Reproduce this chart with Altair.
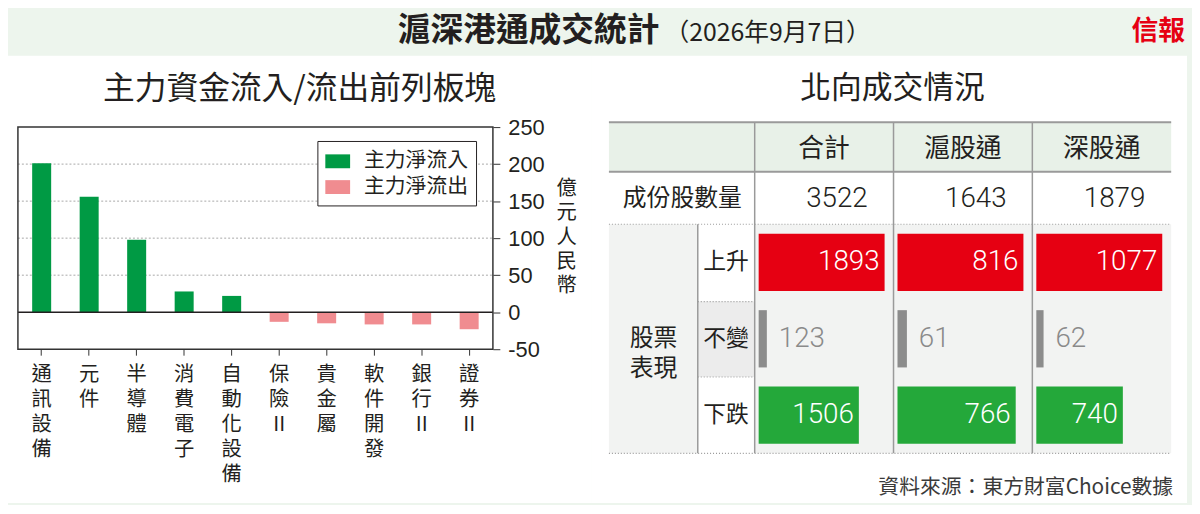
import altair as alt
import pandas as pd

# ---------------- data ----------------
sectors = ["通訊設備", "元件", "半導體", "消費電子", "自動化設備",
           "保險II", "貴金屬", "軟件開發", "銀行II", "證券II"]
net_flow = [201, 156, 98, 28, 22, -13, -15, -16.5, -16.5, -23]
flow_types = ["主力淨流入", "主力淨流出"]
y_ticks = [-50, 0, 50, 100, 150, 200, 250]
grid_values = [50, 100, 150, 200]

table_cols = ["合計", "滬股通", "深股通"]
constituents = [3522, 1643, 1879]
perf_rows = ["上升", "不變", "下跌"]
rise = [1893, 816, 1077]
flat = [123, 61, 62]
fall = [1506, 766, 740]

# ---------------- styles ----------------
CJK = "Noto Sans CJK TC"
NUM = "Roboto"
AXNUM = "Liberation Sans Narrow, Liberation Sans, sans-serif"
INK = "#231f20"
GREEN_BG = "#edf5ed"
one = pd.DataFrame({"k": [0]})


def vrect(x1, x2, y1, y2, **kw):
    return alt.Chart(one).mark_rect(**kw).encode(
        x=alt.value(x1), x2=alt.value(x2), y=alt.value(y1), y2=alt.value(y2))


def hrule(x1, x2, y, **kw):
    return alt.Chart(one).mark_rule(**kw).encode(
        x=alt.value(x1), x2=alt.value(x2), y=alt.value(y))


def vrule(x, y1, y2, **kw):
    return alt.Chart(one).mark_rule(**kw).encode(
        x=alt.value(x), y=alt.value(y1), y2=alt.value(y2))


def label(text, x, y, **kw):
    return alt.Chart(one).mark_text(text=text, **kw).encode(
        x=alt.value(x), y=alt.value(y))


# ---------------- header ----------------
header = alt.layer(
    vrect(0, 1184, 0, 46, color=GREEN_BG),
    label("滬深港通成交統計", 647, 21, font=CJK, fontSize=33,
          fontWeight="bold", align="right", baseline="middle", color=INK),
    label("（2026年9月7日）", 652, 23, font=CJK, fontSize=25, align="left",
          baseline="middle", color=INK),
    label("信報", 1177, 22, font=CJK, fontSize=27, fontWeight="bold",
          align="right", baseline="middle", color="#e60012"),
).properties(width=1184, height=46)

# ---------------- left: bar chart ----------------
W_L, H_L = 479, 224


def stack(name):
    parts, i = [], 0
    while i < len(name):
        if name[i:i + 2] == "II":
            parts.append("II")
            i += 2
        else:
            parts.append(name[i])
            i += 1
    return "|".join(parts)


keys = [stack(s) for s in sectors]
df_bars = pd.DataFrame({
    "key": keys,
    "value": net_flow,
    "type": [flow_types[0] if v >= 0 else flow_types[1] for v in net_flow],
})
df_grid = pd.DataFrame({"value": grid_values})

y_scale = alt.Scale(domain=[-50, 250], nice=False, zero=False)
x_enc = alt.X(
    "key:N", sort=keys,
    scale=alt.Scale(paddingInner=0.6, paddingOuter=0.3),
    axis=alt.Axis(orient="bottom", labelExpr="split(datum.label, '|')",
                  labelAngle=0, labelBaseline="top", labelAlign="center",
                  labelFont=CJK, labelFontSize=20.5, labelLineHeight=25,
                  labelPadding=10, labelColor=INK, tickSize=6,
                  tickColor="#333333", domain=False, grid=False, title=None,
                  labelOverlap=False, zindex=2))
y_axis = alt.Axis(orient="right", values=y_ticks, tickSize=7,
                  tickColor="#333333", labelPadding=8, labelFont=AXNUM,
                  labelFontSize=22, labelColor=INK, domain=False, grid=False,
                  labelOverlap=False, labelBaseline="middle",
                  labelExpr="datum.value + ''",
                  title=list("億元人民幣"), titleAngle=0, titleX=74, titleY=52,
                  titleAlign="center", titleBaseline="top", titleFont=CJK,
                  titleFontSize=20.5, titleLineHeight=24.5,
                  titleFontWeight="normal", titleColor=INK, zindex=2)

bars = alt.Chart(df_bars).mark_bar().encode(
    x=x_enc,
    y=alt.Y("value:Q", scale=y_scale, axis=y_axis),
    y2=alt.datum(0),
    color=alt.Color(
        "type:N",
        scale=alt.Scale(domain=flow_types, range=["#009a44", "#f08c90"]),
        legend=alt.Legend(
            orient="none", legendX=302, legendY=14, title=None,
            fillColor="white", strokeColor=INK, padding=8,
            symbolType="M-1,-0.56H1V0.56H-1Z", symbolSize=625,
            symbolStrokeWidth=0, labelFont=CJK, labelFontSize=21,
            labelColor=INK, labelOffset=14, rowPadding=3, zindex=3)),
)
grid = alt.Chart(df_grid).mark_rule(color="#a8a8a8", strokeDash=[2, 2],
                                    strokeWidth=1).encode(
    y=alt.Y("value:Q", scale=y_scale, axis=None),
    x=alt.value(0), x2=alt.value(W_L))
zero = alt.Chart(pd.DataFrame({"value": [0]})).mark_rule(
    color=INK, strokeWidth=1.5).encode(
    y=alt.Y("value:Q", scale=y_scale, axis=None),
    x=alt.value(0), x2=alt.value(W_L))

left = alt.layer(
    vrect(-10, 578, -72, 379, color="white"),
    grid,
    bars,
    zero,
    vrect(0, W_L, 0, H_L, fill="white", fillOpacity=0, stroke="#333333",
          strokeWidth=1.5),
    label("主力資金流入/流出前列板塊", 284, -38, font=CJK, fontSize=32,
          align="center", baseline="middle", color=INK),
).resolve_axis(y="independent").properties(width=W_L, height=H_L)

# ---------------- right: table ----------------
W_R, H_R = 567, 334
X0, Y0 = 5, -5            # table origin inside the view
COL0 = X0 + 147
COLW = 140
SUB = X0 + 89.6
XE = X0 + W_R
TOP = Y0
HDR = Y0 + 50
R1 = Y0 + 103
R2 = Y0 + 181
R3 = Y0 + 257
BOT = Y0 + H_R

cols_df = pd.DataFrame({"col": table_cols, "n": constituents})
perf = pd.DataFrame({
    "col": [c for c in table_cols for _ in perf_rows],
    "row": perf_rows * len(table_cols),
    "value": [v for trio in zip(rise, flat, fall) for v in trio],
})

col_scale = alt.Scale(domain=table_cols, range=[COL0, XE],
                      paddingInner=0, paddingOuter=0)
row_scale = alt.Scale(domain=perf_rows, range=[R1, BOT],
                      paddingInner=0.25, paddingOuter=0.125)
bar_colors = alt.Scale(domain=perf_rows, range=["#e60012", "#8c8c8c", "#24a83a"])

LINE = "#9a9a9a"
layers = [
    vrect(-13, 588, -72, 379, color="white"),
    vrect(X0, XE, TOP, HDR, color="#e8f1e8"),
    vrect(X0, SUB, R1, BOT, color="#f2f3f2"),
    vrect(SUB, COL0, R2, R3, color="#ececec"),
    vrect(COL0, XE, R1, BOT, color="#f2f3f2"),
    hrule(X0, XE, TOP, color=LINE, strokeWidth=2),
    hrule(X0, XE, HDR, color=LINE, strokeWidth=2),
    hrule(X0, XE, R1, color=LINE, strokeWidth=1.2, strokeDash=[1, 2]),
    hrule(SUB, COL0, R2, color=LINE, strokeWidth=1.2, strokeDash=[1, 2]),
    hrule(SUB, COL0, R3, color=LINE, strokeWidth=1.2, strokeDash=[1, 2]),
    hrule(X0, XE, BOT, color=LINE, strokeWidth=1.2, strokeDash=[1, 2]),
    vrule(COL0, TOP, BOT, color=LINE, strokeWidth=1.5),
    vrule(COL0 + COLW, TOP, BOT, color=LINE, strokeWidth=1.5),
    vrule(COL0 + 2 * COLW, TOP, BOT, color=LINE, strokeWidth=1.5),
    vrule(SUB, R1, BOT, color=LINE, strokeWidth=1.5),
    # headers
    alt.Chart(cols_df).mark_text(font=CJK, fontSize=26, color=INK,
                                 baseline="middle").encode(
        x=alt.X("col:N", scale=col_scale, axis=None),
        y=alt.value(Y0 + 27), text="col:N"),
    # constituents row
    label("成份股數量", X0 + 74, Y0 + 78, font=CJK, fontSize=24,
          align="center", baseline="middle", color=INK),
    alt.Chart(cols_df).mark_text(font=NUM, fontSize=28, fontWeight=300,
                                 color=INK, align="right", baseline="middle",
                                 dx=44).encode(
        x=alt.X("col:N", scale=col_scale, axis=None),
        y=alt.value(Y0 + 78), text=alt.Text("n:Q", format="d")),
    # performance labels
    label(["股票", "表現"], X0 + 45, Y0 + 219, font=CJK, fontSize=24,
          lineHeight=30, align="center", baseline="middle", color=INK),
    alt.Chart(pd.DataFrame({"row": perf_rows})).mark_text(
        font=CJK, fontSize=23, color=INK, baseline="middle").encode(
        x=alt.value(X0 + 118),
        y=alt.Y("row:N", scale=row_scale, axis=None), text="row:N"),
    label("資料來源：東方財富Choice數據", X0 + 569, Y0 + 369, font=CJK,
          fontSize=21, align="right", baseline="middle", color="#3a3a3a"),
    label("北向成交情況", X0 + 286, Y0 - 33, font=CJK, fontSize=31,
          align="center", baseline="middle", color=INK),
]

for i, c in enumerate(table_cols):
    sub = perf[perf["col"] == c]
    cmax = float(sub["value"].max())
    s = COL0 + COLW * i
    xs = alt.Scale(domain=[0, cmax], range=[s + 4, s + 131], nice=False)
    y_enc = alt.Y("row:N", scale=row_scale, axis=None)
    layers.append(alt.Chart(sub).mark_bar().encode(
        x=alt.X("value:Q", scale=xs, axis=None), x2=alt.datum(0), y=y_enc,
        color=alt.Color("row:N", scale=bar_colors, legend=None)))
    layers.append(alt.Chart(sub).transform_filter(
        alt.datum.row != "不變").mark_text(
        font=NUM, fontSize=28, fontWeight=300, color="white", align="right",
        dx=-5, baseline="middle").encode(
        x=alt.X("value:Q", scale=xs, axis=None), y=y_enc,
        text=alt.Text("value:Q", format="d")))
    layers.append(alt.Chart(sub).transform_filter(
        alt.datum.row == "不變").mark_text(
        font=NUM, fontSize=28, fontWeight=300, color="#8a8a8a", align="left",
        dx=12, baseline="middle").encode(
        x=alt.X("value:Q", scale=xs, axis=None), y=y_enc,
        text=alt.Text("value:Q", format="d")))

right = alt.layer(*layers).resolve_scale(x="independent").properties(
    width=W_R, height=H_R)

body = alt.hconcat(left, right, spacing=0).resolve_scale(
    color="independent", x="independent", y="independent")
chart = alt.vconcat(header, body, spacing=0).resolve_scale(
    color="independent", x="independent", y="independent").properties(
    padding=0).configure(background=GREEN_BG).configure_view(
    strokeOpacity=0).configure_axis(labelOverlap=False)

chart.save("out.html", embed_options={"renderer": "svg", "actions": False})
